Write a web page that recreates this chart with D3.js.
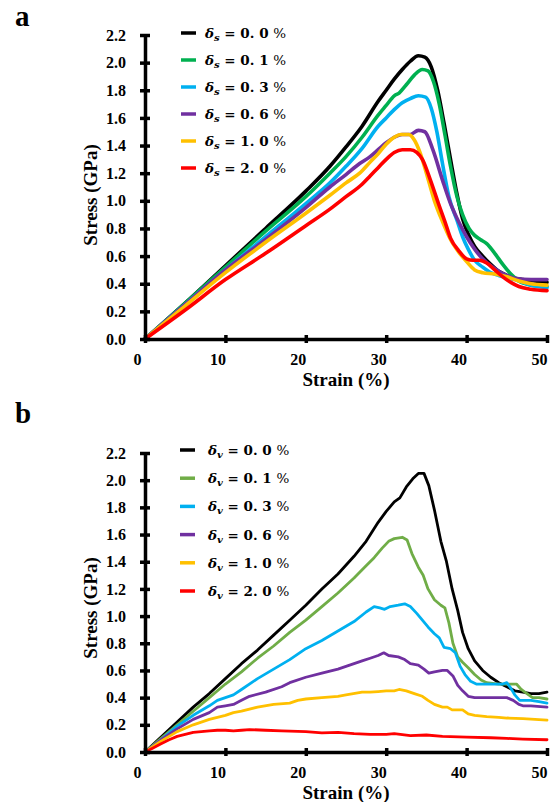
<!DOCTYPE html>
<html>
<head>
<meta charset="utf-8">
<script src="https://cdn.jsdelivr.net/npm/d3@7"></script>
<style>
  body { margin: 0; background: #fff; }
  svg text { font-family: "Liberation Serif", "Times New Roman", serif; font-weight: bold; }
</style>
</head>
<body>
<svg id="chart" width="553" height="802"></svg>
<script>
// strain (%) vs stress (GPa)
// panel a : delta_s
let aS00 = [[0,0],[5,0.26],[10,0.53],[15,0.8],[20,1.07],[23,1.25],[25,1.39],[27,1.54],[29,1.72],[30,1.8],[31,1.88],[32,1.95],[33,2.01],[34,2.05],[34.8,2.04],[35.6,1.97],[36.4,1.8],[37.2,1.56],[38,1.3],[38.8,1.05],[39.5,0.87],[40.2,0.76],[41,0.67],[42,0.6],[43,0.54],[44,0.49],[45,0.46],[46,0.44],[47,0.43],[48.5,0.42],[50,0.41]];
let aS01 = [[0,0],[5,0.26],[10,0.52],[15,0.78],[20,1.03],[23,1.2],[25,1.32],[27,1.46],[29,1.62],[30,1.69],[31,1.76],[31.6,1.78],[32.5,1.84],[33.5,1.91],[34.5,1.95],[35.2,1.94],[35.9,1.86],[36.6,1.7],[37.3,1.48],[38,1.25],[38.8,1.03],[39.5,0.9],[40.3,0.8],[41,0.75],[41.7,0.72],[42.5,0.69],[43.5,0.62],[44.5,0.54],[45.5,0.47],[46.5,0.42],[48,0.39],[50,0.38]];
let aS03 = [[0,0],[5,0.25],[10,0.5],[15,0.74],[20,0.98],[23,1.13],[25,1.25],[27,1.38],[29,1.54],[30,1.6],[31,1.66],[32,1.71],[33,1.74],[34,1.76],[34.9,1.75],[35.6,1.67],[36.3,1.5],[37,1.27],[37.8,1.03],[38.8,0.86],[39.5,0.74],[40.2,0.65],[41,0.57],[42,0.52],[43,0.48],[44,0.46],[46,0.43],[48,0.39],[50,0.37]];
let aS06 = [[0,0],[5,0.25],[10,0.5],[15,0.72],[20,0.95],[23,1.1],[25,1.19],[26.7,1.27],[28,1.32],[29,1.37],[30,1.42],[31,1.46],[32,1.48],[33,1.48],[34,1.51],[34.8,1.5],[35.8,1.37],[37,1.15],[38,0.98],[39,0.85],[40,0.74],[41,0.65],[42,0.58],[43,0.53],[44,0.49],[45,0.46],[46,0.44],[48,0.43],[50,0.43]];
let aS10 = [[0,0],[5,0.24],[10,0.48],[15,0.7],[20,0.91],[23,1.04],[25,1.13],[26.7,1.2],[28,1.28],[29,1.34],[30,1.41],[31,1.46],[31.8,1.48],[32.8,1.48],[33.5,1.44],[34.2,1.35],[35,1.2],[36,1.0],[37,0.85],[38,0.72],[39,0.63],[40,0.56],[41,0.5],[42,0.48],[43.5,0.47],[45,0.45],[46.5,0.42],[48,0.4],[50,0.39]];
let aS20 = [[0,0],[5,0.21],[10,0.43],[15,0.62],[20,0.82],[23,0.94],[25,1.03],[27,1.12],[28,1.18],[29,1.24],[30,1.3],[31,1.35],[32,1.37],[33,1.37],[33.8,1.35],[34.5,1.3],[35.5,1.15],[36.5,0.98],[37.3,0.85],[38,0.73],[39,0.64],[40,0.58],[40.8,0.57],[41.6,0.57],[42.5,0.55],[43.5,0.5],[44.5,0.45],[45.5,0.41],[46.5,0.38],[48,0.36],[50,0.35]];

// panel b : delta_v
let bV00 = [[0,0],[2,0.11],[4,0.22],[6,0.33],[8,0.43],[10,0.54],[12,0.65],[14,0.75],[16,0.86],[18,0.97],[20,1.08],[22,1.2],[24,1.31],[26,1.44],[27.5,1.55],[29,1.69],[30,1.77],[31,1.84],[31.7,1.87],[32.5,1.95],[33.3,2.01],[34,2.05],[34.7,2.05],[35.3,1.96],[36,1.78],[36.8,1.55],[37.5,1.4],[38.2,1.2],[38.9,1.04],[39.5,0.88],[40.2,0.76],[41,0.67],[42,0.6],[43,0.55],[44,0.51],[45,0.48],[46,0.45],[47,0.44],[48,0.43],[49,0.43],[50,0.44]];
let bV01 = [[0,0],[2,0.1],[4,0.2],[6,0.3],[8,0.4],[10,0.5],[12,0.59],[14,0.69],[16,0.78],[18,0.88],[20,0.97],[22,1.07],[24,1.17],[26,1.28],[27.5,1.37],[28.5,1.43],[29.5,1.5],[30.3,1.55],[31,1.57],[32,1.58],[32.6,1.56],[33.2,1.46],[34,1.36],[34.6,1.3],[35.2,1.2],[36,1.12],[36.8,1.08],[37.3,1.06],[37.8,0.95],[38.3,0.8],[38.9,0.7],[39.5,0.66],[40.2,0.62],[41,0.57],[41.8,0.53],[42.5,0.51],[44,0.5],[45.5,0.5],[46.2,0.5],[46.8,0.46],[47.5,0.43],[48.2,0.4],[49,0.4],[50,0.39]];
let bV03 = [[0,0],[2,0.09],[4,0.19],[6,0.27],[8,0.34],[9,0.38],[10,0.4],[11,0.42],[12,0.46],[14,0.54],[16,0.61],[18,0.68],[20,0.76],[22,0.82],[24,0.89],[26,0.96],[27.5,1.03],[28.5,1.07],[29.2,1.06],[29.8,1.05],[30.5,1.07],[31.5,1.08],[32.3,1.09],[33,1.07],[33.8,1.02],[34.5,0.97],[35.2,0.92],[36,0.87],[36.6,0.84],[37.2,0.77],[38,0.76],[38.6,0.73],[39.2,0.63],[39.8,0.57],[40.5,0.52],[41.2,0.5],[42.5,0.5],[43.5,0.5],[44.5,0.5],[45,0.51],[45.5,0.47],[46,0.42],[46.6,0.38],[48,0.38],[49,0.37],[50,0.36]];
let bV06 = [[0,0],[2,0.09],[4,0.17],[6,0.24],[8,0.29],[9,0.33],[10,0.34],[11,0.35],[12,0.38],[13,0.41],[15,0.44],[17,0.48],[18,0.51],[20,0.55],[22,0.58],[24,0.61],[25,0.63],[26,0.65],[27,0.67],[28,0.69],[29,0.71],[29.7,0.73],[30.3,0.71],[31.5,0.7],[32.3,0.68],[33,0.65],[34,0.64],[34.7,0.61],[35.3,0.58],[36,0.59],[37,0.6],[37.6,0.6],[38.3,0.56],[38.9,0.49],[39.5,0.45],[40.2,0.41],[41,0.4],[42,0.4],[43,0.4],[44,0.4],[45,0.4],[45.8,0.38],[46.5,0.35],[47,0.34],[48,0.34],[50,0.33]];
let bV10 = [[0,0],[2,0.08],[4,0.15],[6,0.2],[8,0.24],[10,0.27],[11,0.29],[12,0.3],[14,0.33],[16,0.35],[18,0.36],[19,0.38],[20,0.39],[22,0.4],[24,0.41],[25,0.42],[27,0.44],[28,0.44],[29,0.445],[30,0.45],[31,0.45],[31.6,0.46],[32.5,0.45],[33.5,0.43],[34.5,0.41],[35.2,0.38],[36,0.35],[37,0.33],[37.6,0.33],[38.2,0.31],[39,0.31],[39.5,0.31],[40.2,0.28],[41,0.27],[42.5,0.26],[44,0.255],[45,0.25],[47,0.245],[48.5,0.24],[50,0.235]];
let bV20 = [[0,0],[1,0.03],[2,0.06],[3,0.09],[4,0.115],[5,0.13],[6,0.145],[7,0.15],[8,0.155],[9,0.16],[10,0.16],[11,0.155],[12,0.16],[13,0.165],[15,0.16],[17,0.155],[20,0.15],[22,0.14],[24,0.145],[26,0.135],[28,0.13],[30,0.13],[31,0.135],[33,0.12],[35,0.125],[37,0.115],[40,0.11],[43,0.105],[45,0.1],[47,0.095],[50,0.09]];

let legendA = ["0.0", "0.1", "0.3", "0.6", "1.0", "2.0"];
let colorsA = ["#000000", "#00B050", "#00B0F0", "#7030A0", "#FFC000", "#FF0000"];
let colorsB = ["#000000", "#70AD47", "#00B0F0", "#7030A0", "#FFC000", "#FF0000"];
let yTicks = [0, 0.2, 0.4, 0.6, 0.8, 1.0, 1.2, 1.4, 1.6, 1.8, 2.0, 2.2];
let xTicks = [0, 10, 20, 30, 40, 50];

let svg = d3.select("#chart");

let drawPanel = (opt) => {
  let x = d3.scaleLinear().domain([0, 50]).range([145, 547]);
  let y = d3.scaleLinear().domain([0, 2.2]).range([opt.bottom, opt.bottom - opt.height]);
  let g = svg.append("g");

  // panel letter
  svg.append("text").attr("x", 15).attr("y", opt.letterY)
    .style("font-size", "29px").text(opt.letter);

  // lines
  let line = d3.line().x(d => x(d[0])).y(d => y(d[1])).curve(opt.curve);
  opt.series.forEach((s, i) => {
    g.append("path").datum(s)
      .attr("fill", "none")
      .attr("stroke", opt.colors[i])
      .attr("stroke-width", opt.lw)
      .attr("stroke-linejoin", "round")
      .attr("stroke-linecap", "round")
      .attr("d", line);
  });

  // axes
  let yAxis = g.append("g").attr("transform", "translate(145,0)")
    .call(d3.axisLeft(y).tickValues(yTicks).tickFormat(d3.format(".1f")).tickSizeOuter(0).tickSizeInner(5).tickPadding(14));
  let xAxis = g.append("g").attr("transform", `translate(0,${opt.bottom})`)
    .call(d3.axisBottom(x).tickValues(xTicks).tickSizeOuter(0).tickSizeInner(4));

  [yAxis, xAxis].forEach(ax => {
    ax.select(".domain").attr("stroke", "#000").attr("stroke-width", 3.5);
    ax.selectAll("line").attr("stroke", "#000").attr("stroke-width", 3.5);
    ax.selectAll("text").attr("fill", "#000")
      .style("font-size", "16px").style("font-family", "Liberation Serif, serif").style("font-weight", "bold");
  });
  yAxis.selectAll(".tick line").attr("x1", -5).attr("x2", 5);
  xAxis.selectAll(".tick line").attr("y1", -4).attr("y2", 4);
  xAxis.selectAll(".tick text").attr("dx", -8).attr("y", 26).attr("dy", 0);

  // axis titles
  svg.append("text").attr("x", 346).attr("y", opt.bottom + 47)
    .attr("text-anchor", "middle").style("font-size", "19px").text("Strain (%)");
  svg.append("text")
    .attr("transform", `translate(97,${opt.bottom - 144}) rotate(-90)`)
    .attr("text-anchor", "middle").style("font-size", "19px").text("Stress (GPa)");

  // legend
  legendA.forEach((v, i) => {
    let ly = opt.legY + i * opt.legGap;
    svg.append("line").attr("x1", opt.legX).attr("x2", opt.legX + 15)
      .attr("y1", ly).attr("y2", ly)
      .attr("stroke", opt.colors[i]).attr("stroke-width", 3.5);
    let t = svg.append("text").attr("x", opt.legX + opt.textOff).attr("y", ly + 5)
      .style("font-family", "DejaVu Serif, serif").style("font-size", "13.5px");
    t.append("tspan").style("font-style", "italic").text("δ");
    t.append("tspan").style("font-style", "italic").style("font-size", "10px").attr("dy", 3).text(opt.sub);
    t.append("tspan").attr("dy", -3).text(" = " + v.replace(".", ". ") + " ");
    t.append("tspan").style("font-weight", "normal").text("%");
  });
};

drawPanel({
  letter: "a", letterY: 26, bottom: 339, height: 304,
  series: [aS00, aS01, aS03, aS06, aS10, aS20], colors: colorsA,
  curve: d3.curveMonotoneX, lw: 3.6,
  legX: 181, legY: 33, legGap: 27, textOff: 24, sub: "s"
});
drawPanel({
  letter: "b", letterY: 423, bottom: 752, height: 299,
  series: [bV00, bV01, bV03, bV06, bV10, bV20], colors: colorsB,
  curve: d3.curveLinear, lw: 2.8,
  legX: 180, legY: 450, legGap: 28.2, textOff: 28, sub: "v"
});
</script>
</body>
</html>
